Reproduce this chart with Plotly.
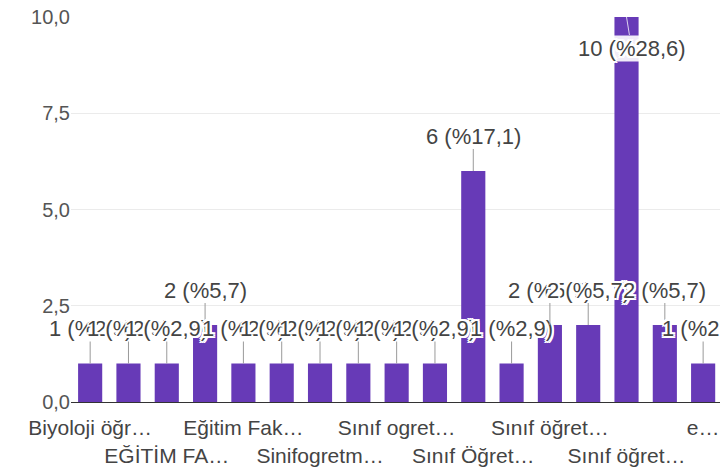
import plotly.graph_objects as go

# Responses per department (count of answers)
categories = [
    "Biyoloji öğretmenliği",
    "Bilgisayar öğretmenliği",
    "EĞİTİM FAKÜLTESİ",
    "Eğitim bilimleri",
    "Eğitim Fakültesi",
    "Fen bilgisi öğretmenliği",
    "Sinifogretmenligi",
    "Sınıf eğitimi",
    "Sınıf ogretmenligi",
    "Sınıf öğretmeliği",
    "Sınıf Öğretmenliği",
    "Sınıf öğretmenligi",
    "Sınıf öğretmenliği bölümü",
    "Sınıf öğretmenliği ABD",
    "Sınıf öğretmenliği",
    "Sınıf öğretmenliğ",
    "eğitim fakültesi",
]
values = [1, 1, 1, 2, 1, 1, 1, 1, 1, 1, 6, 1, 2, 2, 10, 2, 1]

# Shortened axis labels shown under every second bar, in two staggered rows
tick_categories = categories[::2]
tick_labels = [
    "Biyoloji öğr…",
    "EĞİTİM FA…",
    "Eğitim Fak…",
    "Sinifogretm…",
    "Sınıf ogret…",
    "Sınıf Öğret…",
    "Sınıf öğret…",
    "Sınıf öğret…",
    "e…",
]
y_ticks = [0, 2.5, 5, 7.5, 10]

BAR = "#673AB7"
FONT = "Liberation Sans, Arial, sans-serif"
HALO = ("-2px -2px 0 #fff, 2px -2px 0 #fff, -2px 2px 0 #fff, 2px 2px 0 #fff, "
        "0 -2px 0 #fff, 0 2px 0 #fff, -2px 0 0 #fff, 2px 0 0 #fff")

total = sum(values)
ymax = y_ticks[-1]

fig = go.Figure(
    go.Bar(
        x=categories,
        y=values,
        marker=dict(color=BAR, line=dict(width=0)),
        hovertemplate="%{x}: %{y}<extra></extra>",
    )
)

# Value labels with a thin leader line down to each bar
for cat, v in zip(categories, values):
    pct = f"{v / total * 100:.1f}".replace(".", ",")
    inside = v >= ymax
    fig.add_annotation(
        x=cat,
        y=min(v, ymax),
        text=f"{v} (%{pct})",
        showarrow=True,
        arrowhead=0,
        arrowwidth=1,
        arrowcolor="#dcd3ee" if inside else "#9a9a9a",
        ax=5 if inside else 0,
        ay=31 if inside else -35,
        bgcolor="rgba(255,255,255,0.9)" if inside else None,
        borderpad=0,
        font=dict(family=FONT, size=22, color="#444444", shadow=HALO),
    )

fig.update_layout(
    width=720,
    height=472,
    margin=dict(l=71, r=0, t=17, b=70),
    paper_bgcolor="white",
    plot_bgcolor="white",
    separators=",.",
    showlegend=False,
    bargap=0.37,
    font=dict(family=FONT, color="#555555"),
    xaxis=dict(
        type="category",
        categoryorder="array",
        categoryarray=categories,
        range=[-0.5, 16.44],
        tickmode="array",
        tickvals=tick_categories,
        ticktext=[("<br>" if i % 2 else "") + t for i, t in enumerate(tick_labels)],
        tickangle=0,
        ticks="",
        ticklabelstandoff=7,
        tickfont=dict(size=21, color="#444444"),
        showgrid=False,
        showline=True,
        linecolor="#333333",
        linewidth=1,
        zeroline=False,
    ),
    yaxis=dict(
        range=[0, ymax],
        tickmode="array",
        tickvals=y_ticks,
        tickformat=".1f",
        ticks="",
        ticklabelstandoff=0,
        tickfont=dict(size=20, color="#555555"),
        showgrid=True,
        gridcolor="#ebebeb",
        gridwidth=1,
        zeroline=False,
        showline=False,
    ),
)

fig.write_html("out.html")
